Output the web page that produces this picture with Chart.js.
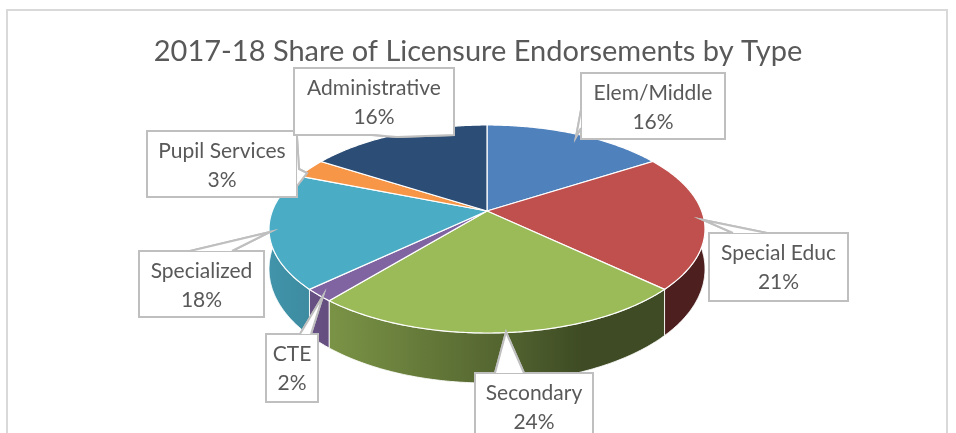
<!DOCTYPE html>
<html>
<head>
<meta charset="utf-8">
<script src="https://cdn.jsdelivr.net/npm/chart.js@4"></script>
<style>
    html, body { margin: 0; background: #fff; overflow: hidden; }
    #wrap { width: 956px; height: 433px; }
</style>
</head>
<body>
<div id="wrap"><canvas id="chart1"></canvas></div>
<script>
const titleText = "2017-18 Share of Licensure Endorsements by Type";
const categories = ["Elem/Middle", "Special Educ", "Secondary", "CTE", "Specialized", "Pupil Services", "Administrative"];
const shares = [16, 21, 24, 2, 18, 3, 16];
const sliceColors = ["#4f81bd", "#c0504d", "#9bbb59", "#8064a2", "#4bacc6", "#f79646", "#2c4d75"];

// callout boxes: [x, y, w, h] and the wedge as points starting/ending on the box edge
const labelBoxes = [
    [581, 73, 144, 66],
    [709, 233, 139, 68],
    [475, 373, 118, 70],
    [266, 334, 52, 68],
    [139, 251, 125, 66],
    [147, 131, 150, 66],
    [294, 68, 160, 67]
];
const labelWedges = [
    [[581, 110], [576, 137], [581, 128]],
    [[767, 233], [703, 220], [733, 233]],
    [[495, 373], [506, 332], [524, 373]],
    [[300, 334], [323, 296], [311, 334]],
    [[190, 251], [270, 232], [232, 251]],
    [[297, 137], [299, 169], [307, 173], [297, 186]],
    [[454, 128], [454, 135], [397, 137], [372, 135]]
];

// perspective of the pie top, k is how much the front is closer than the back
const pie = { x: 487, y: 211, a: 214.7, b: 100.9, k: 0.173 };

function project(angle) {
    let c = Math.cos(angle), s = Math.sin(angle);
    let d = 1 - pie.k * s;
    return { x: pie.x + pie.a * c / d, y: pie.y + pie.b * s / d, s: s };
}

function rimPoints(start, end) {
    let pts = [];
    let n = Math.max(2, Math.ceil((end - start) / 0.01));
    for (let i = 0; i <= n; i++) {
        pts.push(project(start + (end - start) * i / n));
    }
    return pts;
}

function shade(hex, f) {
    let r = parseInt(hex.slice(1, 3), 16), g = parseInt(hex.slice(3, 5), 16), b = parseInt(hex.slice(5, 7), 16);
    return `rgb(${Math.round(r * f)},${Math.round(g * f)},${Math.round(b * f)})`;
}

const pie3d = {
    id: 'pie3d',
    beforeDraw(chart) {
        // chart frame, bottom edge is cut off by the window
        let ctx = chart.ctx;
        ctx.save();
        ctx.strokeStyle = "#d9d9d9";
        ctx.lineWidth = 2;
        ctx.strokeRect(7, 10, 940, 440);
        ctx.restore();
    },
    beforeDatasetsDraw(chart) {
        let ctx = chart.ctx;
        let arcs = chart.getDatasetMeta(0).data;
        ctx.save();

        // side walls first
        arcs.forEach((arc, i) => {
            let pts = rimPoints(arc.startAngle, arc.endAngle).filter(p => p.s > -0.25);
            if (pts.length < 2) return;
            let grad = ctx.createLinearGradient(269, 0, 705, 0);
            grad.addColorStop(0, shade(sliceColors[i], 0.86));
            grad.addColorStop(0.15, shade(sliceColors[i], 0.78));
            grad.addColorStop(0.53, shade(sliceColors[i], 0.54));
            grad.addColorStop(0.72, shade(sliceColors[i], 0.40));
            grad.addColorStop(1, shade(sliceColors[i], 0.40));
            ctx.beginPath();
            pts.forEach((p, j) => j ? ctx.lineTo(p.x, p.y) : ctx.moveTo(p.x, p.y));
            for (let j = pts.length - 1; j >= 0; j--) {
                ctx.lineTo(pts[j].x, pts[j].y + 38 + 12 * pts[j].s);
            }
            ctx.closePath();
            ctx.fillStyle = grad;
            ctx.fill();
            ctx.strokeStyle = "rgba(255,255,255,0.85)";
            ctx.lineWidth = 1;
            ctx.stroke();
        });

        // top of the pie
        arcs.forEach((arc, i) => {
            let pts = rimPoints(arc.startAngle, arc.endAngle);
            ctx.beginPath();
            ctx.moveTo(pie.x, pie.y);
            pts.forEach(p => ctx.lineTo(p.x, p.y));
            ctx.closePath();
            ctx.fillStyle = sliceColors[i];
            ctx.fill();
            ctx.strokeStyle = "#ffffff";
            ctx.lineWidth = 1.2;
            ctx.stroke();
        });

        ctx.restore();
        return false;
    },
    afterDraw(chart) {
        let ctx = chart.ctx;
        ctx.save();
        labelBoxes.forEach((b, i) => {
            let w = labelWedges[i];
            let wx = [b[0], b[0] + b[2]];
            let wy = [b[1], b[1] + b[3]];

            // white box + wedge, border is drawn with the wedge gap left open
            ctx.beginPath();
            ctx.rect(b[0], b[1], b[2], b[3]);
            ctx.moveTo(w[0][0], w[0][1]);
            w.forEach(p => ctx.lineTo(p[0], p[1]));
            ctx.closePath();
            ctx.fillStyle = "#ffffff";
            ctx.fill();

            ctx.beginPath();
            ctx.rect(b[0], b[1], b[2], b[3]);
            ctx.strokeStyle = "#bfbfbf";
            ctx.lineWidth = 2;
            ctx.stroke();

            ctx.beginPath();
            ctx.moveTo(w[0][0], w[0][1]);
            w.forEach(p => ctx.lineTo(p[0], p[1]));
            ctx.stroke();

            // wipe the box border under the wedge opening
            ctx.beginPath();
            ctx.moveTo(w[0][0], w[0][1]);
            w.forEach(p => ctx.lineTo(p[0], p[1]));
            ctx.closePath();
            ctx.fillStyle = "#ffffff";
            ctx.fill();
            ctx.beginPath();
            ctx.moveTo(w[0][0], w[0][1]);
            w.forEach(p => ctx.lineTo(p[0], p[1]));
            ctx.stroke();

            ctx.fillStyle = "#595959";
            ctx.font = "21px Lato";
            ctx.textAlign = "center";
            ctx.textBaseline = "middle";
            let cx = (wx[0] + wx[1]) / 2;
            ctx.fillText(categories[i], cx, b[1] + 20);
            ctx.fillText(shares[i] + "%", cx, b[1] + 49);
        });
        ctx.restore();
    }
};

new Chart(
    document.getElementById('chart1'),
    {
        type: 'pie',
        data: {
            labels: categories,
            datasets: [
                {
                    data: shares,
                    backgroundColor: sliceColors
                }
            ]
        },
        options: {
            responsive: true,
            maintainAspectRatio: false,
            animation: false,
            plugins: {
                legend: { display: false },
                tooltip: { enabled: false },
                title: {
                    display: true,
                    text: titleText,
                    color: "#595959",
                    font: { family: "Lato", size: 29, weight: "normal" },
                    padding: { top: 34, bottom: 10 }
                }
            }
        },
        plugins: [pie3d]
    }
);
</script>
</body>
</html>
